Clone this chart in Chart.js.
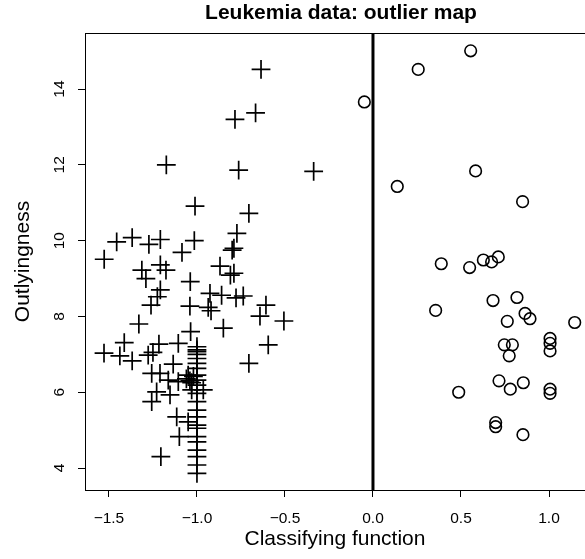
<!doctype html>
<html lang="en">
<head>
<meta charset="utf-8">
<title>Leukemia data: outlier map</title>
<style>
  html, body { margin: 0; padding: 0; background: #fff; }
</style>
</head>
<body>
<canvas id="chart" width="585" height="559"></canvas>

<script src="https://cdn.jsdelivr.net/npm/chart.js@4"></script>
<script>
// crosses (left group)
const crossX = [
  -0.636, -0.667, -0.784, -1.174, -0.763, -0.337, -1.011, -0.705, -0.773, -1.456,
  -1.368, -1.273, -1.208, -1.015, -1.085, -0.800, -0.790, -1.527, -1.313, -1.290,
  -1.208, -1.176, -0.869, -0.810, -0.790, -1.038, -1.208, -1.225, -1.261, -0.926,
  -0.860, -0.778, -0.737, -0.608, -0.642, -0.506, -1.040, -0.936, -0.920, -1.330,
  -0.850, -1.036, -0.595, -1.413, -1.216, -1.106, -1.528, -1.438, -1.277, -1.250,
  -1.368, -1.135, -0.705, -1.257, -1.210, -1.163, -1.106, -0.964, -1.229, -1.257,
  -1.153, -1.030, -1.115, -1.050, -1.100, -1.205, -1.060, -1.040, -1.020, -1.030,
  -1.050,
  -1.0, -1.0, -1.0, -1.0, -1.0, -1.0, -1.0, -1.0, -1.0, -1.0,
  -1.0, -1.0, -1.0, -1.0, -1.0, -1.0, -1.0, -1.0, -1.0, -1.0,
  -1.0, -1.0
]
const crossY = [
  14.52, 13.37, 13.20, 12.00, 11.86, 11.83, 10.91, 10.72, 10.19, 9.97,
  10.08, 9.90, 10.03, 10.00, 9.69, 9.75, 9.80, 9.51, 9.22, 9.00,
  9.36, 9.22, 9.33, 9.09, 9.14, 8.92, 8.70, 8.52, 8.30, 8.61,
  8.56, 8.49, 8.54, 8.30, 8.01, 7.88, 8.27, 8.24, 8.15, 7.80,
  7.69, 7.60, 7.25, 7.31, 7.27, 7.29, 7.03, 6.96, 6.98, 7.05,
  6.83, 6.74, 6.76, 6.50, 6.50, 6.32, 6.28, 6.06, 6.01, 5.75,
  5.93, 6.06, 5.35, 5.22, 4.83, 4.30, 6.35, 6.30, 6.42, 6.25,
  6.45,
  7.20, 7.12, 7.07, 7.00, 6.89, 6.76, 6.63, 6.45, 6.32, 6.19,
  5.97, 5.75, 5.53, 5.35, 5.13, 5.05, 4.83, 4.69, 4.47, 4.30,
  4.08, 3.86
]

// circles (right group)
const circleX = [
  0.555, 0.257, -0.049, 0.583, 0.138, 0.850, 0.388, 0.549, 0.627, 0.674,
  0.712, 0.682, 0.818, 0.356, 0.864, 0.892, 0.763, 1.146, 1.006, 1.006,
  1.006, 0.746, 0.792, 0.774, 0.716, 0.854, 0.780, 0.487, 1.006, 1.006,
  0.697, 0.697, 0.852
]
const circleY = [
  15.01, 14.52, 13.66, 11.84, 11.43, 11.03, 9.39, 9.29, 9.49, 9.44,
  9.57, 8.42, 8.50, 8.16, 8.08, 7.94, 7.87, 7.84, 7.42, 7.29,
  7.09, 7.25, 7.25, 6.96, 6.30, 6.25, 6.08, 6.00, 6.08, 5.97,
  5.20, 5.09, 4.88
]

const cutoffX = [0, 0]
const cutoffY = [3.42, 15.48]

const xTicks = [-1.5, -1.0, -0.5, 0.0, 0.5, 1.0]
const yTicks = [4, 6, 8, 10, 12, 14]

const font = '"Liberation Sans", Arial, Helvetica, sans-serif'

// top edge of the box (the right edge falls outside the picture),
// title nudged right since the original plot region runs past the edge
const frame = {
  id: 'frame',
  afterLayout(chart) {
    const t = chart.titleBlock
    if (t) {
      t.left += 6
      t.right += 6
    }
  },
  afterDraw(chart) {
    const { ctx, chartArea: a } = chart
    ctx.save()
    ctx.strokeStyle = '#000'
    ctx.lineWidth = 1
    ctx.beginPath()
    ctx.moveTo(a.left, a.top + 0.5)
    ctx.lineTo(a.right, a.top + 0.5)
    ctx.stroke()
    ctx.restore()
  }
}

function noEdgePadding(axis) {
  axis.paddingLeft = 0
  axis.paddingRight = 0
  axis.paddingTop = 0
  axis.paddingBottom = 0
}

new Chart(document.getElementById('chart'), {
  type: 'scatter',
  data: {
    datasets: [
      {
        label: 'cutoff',
        type: 'line',
        data: cutoffX.map((x, i) => ({ x, y: cutoffY[i] })),
        borderColor: '#000',
        borderWidth: 3,
        pointRadius: 0
      },
      {
        label: 'class 1',
        data: crossX.map((x, i) => ({ x, y: crossY[i] })),
        pointStyle: 'cross',
        pointRadius: 9.4,
        borderColor: '#000',
        borderWidth: 1.7
      },
      {
        label: 'class 2',
        data: circleX.map((x, i) => ({ x, y: circleY[i] })),
        pointStyle: 'circle',
        pointRadius: 5.8,
        backgroundColor: 'rgba(0,0,0,0)',
        borderColor: '#000',
        borderWidth: 1.6
      }
    ]
  },
  options: {
    responsive: false,
    animation: false,
    events: [],
    layout: { autoPadding: false, padding: 0 },
    plugins: {
      legend: { display: false },
      tooltip: { enabled: false },
      title: {
        display: true,
        text: 'Leukemia data: outlier map',
        fullSize: false,
        color: '#000',
        font: { family: font, size: 21, weight: 'bold', lineHeight: 1.2 },
        padding: { top: 0.4, bottom: 7.4 }
      }
    },
    scales: {
      x: {
        type: 'linear',
        min: -1.636,
        max: 1.2045,
        afterFit(axis) {
          axis.height = 69
          noEdgePadding(axis)
        },
        afterBuildTicks(axis) { axis.ticks = xTicks.map(v => ({ value: v })) },
        grid: { drawOnChartArea: false, tickLength: 7, color: '#000', tickColor: '#000' },
        border: { display: true, color: '#000', width: 1 },
        ticks: {
          color: '#000',
          padding: 12,
          autoSkip: false,
          maxRotation: 0,
          minRotation: 0,
          font: { family: font, size: 15.5 },
          callback: v => (v < 0 ? '\u2212' : '') + Math.abs(v).toFixed(1)
        },
        title: {
          display: true,
          text: 'Classifying function',
          color: '#000',
          font: { family: font, size: 21, lineHeight: 1.2 },
          padding: { top: 0, bottom: 7 }
        }
      },
      y: {
        type: 'linear',
        min: 3.42,
        max: 15.48,
        afterFit(axis) {
          axis.width = 85
          noEdgePadding(axis)
        },
        afterBuildTicks(axis) { axis.ticks = yTicks.map(v => ({ value: v })) },
        grid: { drawOnChartArea: false, tickLength: 7, color: '#000', tickColor: '#000' },
        border: { display: true, color: '#000', width: 1 },
        ticks: {
          color: '#000',
          padding: 10,
          minRotation: 90,
          maxRotation: 90,
          crossAlign: 'center',
          font: { family: font, size: 15.5 },
          callback: v => String(v)
        },
        title: {
          display: true,
          text: 'Outlyingness',
          color: '#000',
          font: { family: font, size: 21, lineHeight: 1.2 },
          padding: { top: 10.4, bottom: 0 }
        }
      }
    }
  },
  plugins: [frame]
})
</script>
</body>
</html>
